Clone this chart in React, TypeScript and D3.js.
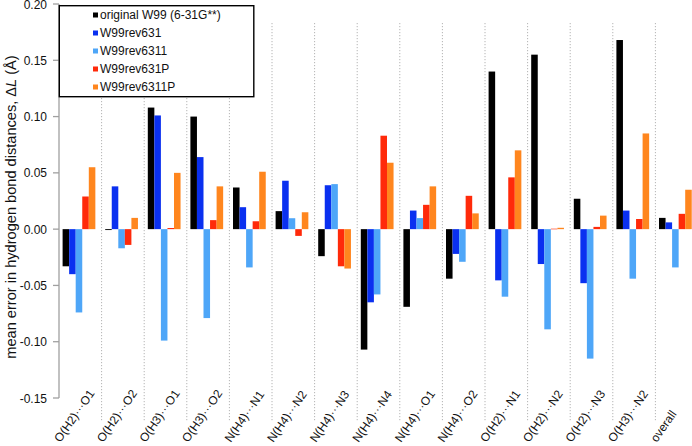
import React from "react";
import * as d3 from "d3";

const categories = [
  "O(H2)···O1", "O(H2)···O2", "O(H3)···O1", "O(H3)···O2", "N(H4)···N1",
  "N(H4)···N2", "N(H4)···N3", "N(H4)···N4", "N(H4)···O1", "N(H4)···O2",
  "O(H2)···N1", "O(H2)···N2", "O(H2)···N3", "O(H3)···N2", "overall",
];

const seriesNames = ["original W99 (6-31G**)", "W99rev631", "W99rev6311", "W99rev631P", "W99rev6311P"];
const seriesColors = ["#000000", "#0a30f0", "#4ea6f8", "#ff2a0a", "#ff861e"];

const original = [-0.033, -0.0008, 0.108, 0.100, 0.037, 0.016, -0.024, -0.107, -0.069, -0.044, 0.140, 0.155, 0.027, 0.168, 0.010];
const rev631 = [-0.040, 0.038, 0.101, 0.064, 0.0195, 0.043, 0.039, -0.065, 0.0165, -0.022, -0.0455, -0.031, -0.048, 0.0165, 0.006];
const rev6311 = [-0.074, -0.017, -0.099, -0.079, -0.034, 0.0097, 0.040, -0.058, 0.0098, -0.029, -0.060, -0.089, -0.115, -0.044, -0.034];
const rev631P = [0.029, -0.014, 0.001, 0.008, 0.007, -0.006, -0.033, 0.083, 0.0216, 0.0296, 0.046, 0.0004, 0.002, 0.009, 0.0136];
const rev6311P = [0.055, 0.010, 0.050, 0.038, 0.051, 0.015, -0.035, 0.059, 0.038, 0.014, 0.070, 0.0012, 0.012, 0.085, 0.035];

const yTicks = [-0.15, -0.10, -0.05, 0.0, 0.05, 0.10, 0.15, 0.20];

const allSeries = [original, rev631, rev6311, rev631P, rev6311P];

const W = 692;
const H = 446;
const FONT = "'Liberation Sans', Arial, Helvetica, sans-serif";

export default function App() {
  const x0 = 59;
  const groupW = 42.6;
  const x = d3.scaleBand<string>().domain(categories).range([x0, x0 + groupW * categories.length]).padding(0);
  const xs = d3.scaleBand<number>().domain(d3.range(seriesNames.length)).range([3.6, 3.6 + 6.55 * 5]).padding(0);
  const y = d3.scaleLinear().domain([-0.15, 0.2]).range([398, 4]);

  return (
    <svg width={W} height={H} style={{ position: "fixed", left: 0, top: 0, background: "#fff" }} fontFamily={FONT}>
      <rect x={0} y={0} width={W} height={H} fill="#fff" />
      {/* dividers */}
      {categories.slice(1).map((c) => (
        <line key={"d" + c} x1={x(c)!} x2={x(c)!} y1={23} y2={421} stroke="#b4b4b4" strokeWidth={1} strokeDasharray="1.2,1.8" />
      ))}
      {/* bars */}
      {categories.map((c, i) => (
        <g key={"g" + c}>
          {allSeries.map((s, j) => {
            const v = s[i];
            const yy = Math.min(y(v), y(0));
            const h = Math.abs(y(v) - y(0));
            return (
              <rect key={j} x={x(c)! + xs(j)!} y={yy} width={xs.bandwidth()} height={Math.max(h, 0.6)} fill={seriesColors[j]} />
            );
          })}
        </g>
      ))}
      {/* y axis */}
      <line x1={x0} x2={x0} y1={y(0.2)} y2={y(-0.15)} stroke="#a0a0a0" strokeWidth={1.3} />
      {yTicks.map((t) => (
        <g key={"t" + t}>
          <line x1={x0 - 6} x2={x0} y1={y(t)} y2={y(t)} stroke="#a0a0a0" strokeWidth={1.3} />
          <text x={x0 - 12} y={y(t) + 4.5} textAnchor="end" fontSize={12} fill="#111">
            {t.toFixed(2)}
          </text>
        </g>
      ))}
      {/* y label */}
      <text transform={`translate(16,207) rotate(-90)`} textAnchor="middle" fontSize={14.6} fill="#111">
        mean error in hydrogen bond distances, Δ<tspan fontStyle="italic">L</tspan> (Å)
      </text>
      {/* x labels */}
      {categories.map((c) => {
        const cx = x(c)! + groupW / 2;
        return (
          <text key={"l" + c} transform={`translate(${cx - 20},443) rotate(-55)`} textAnchor="start" fontSize={12} fill="#111">
            {c}
          </text>
        );
      })}
      {/* legend */}
      <rect x={59.3} y={5.7} width={194.5} height={91} fill="#fff" stroke="#000" strokeWidth={1.4} />
      {seriesNames.map((n, j) => {
        const cy = 15 + j * 18;
        return (
          <g key={"lg" + j}>
            <rect x={93} y={cy - 2.5} width={5} height={5} fill={seriesColors[j]} />
            <text x={100} y={cy + 4.3} fontSize={12} fill="#111">
              {n}
            </text>
          </g>
        );
      })}
    </svg>
  );
}
